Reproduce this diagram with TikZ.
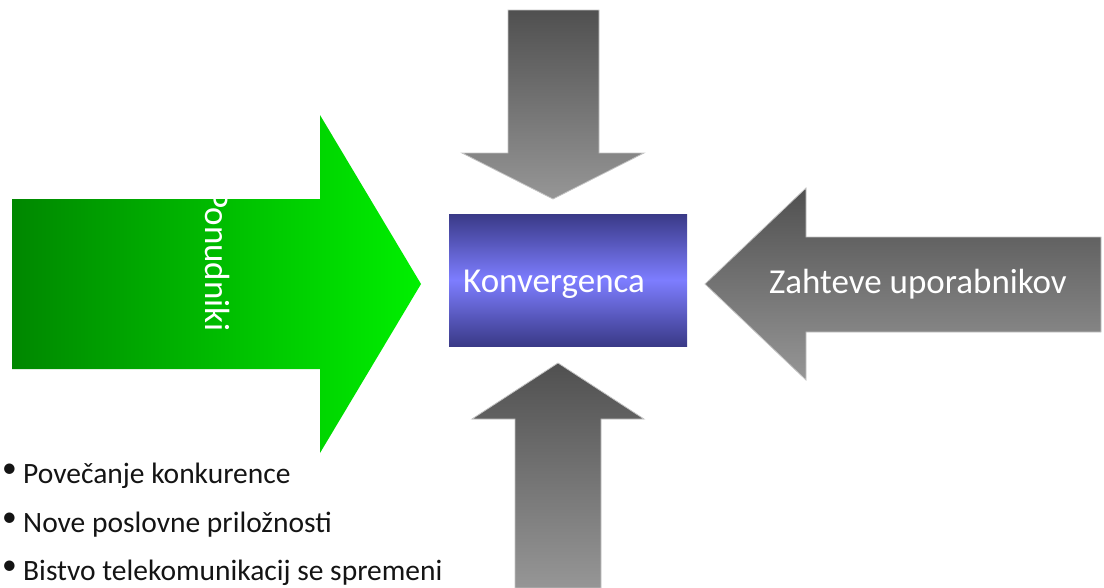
\documentclass[tikz,border=0pt]{standalone}
\usepackage{fontspec}
\setmainfont{Carlito}
\definecolor{gdark}{RGB}{0,135,0}
\definecolor{glight}{RGB}{0,240,0}
\definecolor{gtop}{RGB}{80,80,80}
\definecolor{gbot}{RGB}{150,150,150}
\definecolor{bedge}{RGB}{58,58,135}
\definecolor{bmid}{RGB}{125,125,255}
\definecolor{arrowedge}{RGB}{195,195,195}
\begin{document}
\begin{tikzpicture}[x=1pt,y=-1pt,
  grayarrow/.style={top color=gtop,bottom color=gbot,draw=arrowedge,line width=0.8pt},
  greenarrow/.style={left color=gdark,right color=glight},
  convbox/.style={rectangle,inner sep=0pt,minimum width=238pt,minimum height=132pt,
    top color=bedge,bottom color=bedge,middle color=bmid},
  lbl/.style={text=white,font=\fontsize{35}{35}\selectfont,inner sep=0pt},
  bulletline/.style={anchor=base west,inner sep=0pt,font=\fontsize{29.5}{29.5}\selectfont,text=black!92}]
\useasboundingbox (0,0) rectangle (1104,587);
% green arrow (Ponudniki)
\shade[greenarrow] (12,199) -- (320,199) -- (320,115) -- (421,284) -- (320,453) -- (320,369) -- (12,369) -- cycle;
% top arrow
\shade[grayarrow] (508,10) -- (599,10) -- (599,153) -- (644,153) -- (553,199) -- (462,153) -- (508,153) -- cycle;
% bottom arrow
\shade[grayarrow] (558,363) -- (644,419) -- (601,419) -- (601,588) -- (515,588) -- (515,419) -- (472,419) -- cycle;
% right arrow
\shade[grayarrow] (705,284) -- (806,188) -- (806,237) -- (1101,237) -- (1101,332) -- (806,332) -- (806,380) -- cycle;
% central box
\node[convbox] (conv) at (568,280) {};
\node[lbl,anchor=base west] (convtext) at (463,292) {Konvergenca};
% labels
\node[lbl,rotate=-90,anchor=base west] (pon) at (205,190) {Ponudniki};
\node[lbl,anchor=base west] (zah) at (769,293) {Zahteve uporabnikov};
% bullet list
\node[bulletline] (b1) at (2,483) {\makebox[21pt][l]{\raisebox{6pt}{•}}Povečanje konkurence};
\node[bulletline] (b2) at (2,532) {\makebox[21pt][l]{\raisebox{6pt}{•}}Nove poslovne priložnosti};
\node[bulletline] (b3) at (2,580) {\makebox[21pt][l]{\raisebox{6pt}{•}}Bistvo telekomunikacij se spremeni};
\end{tikzpicture}
\end{document}
